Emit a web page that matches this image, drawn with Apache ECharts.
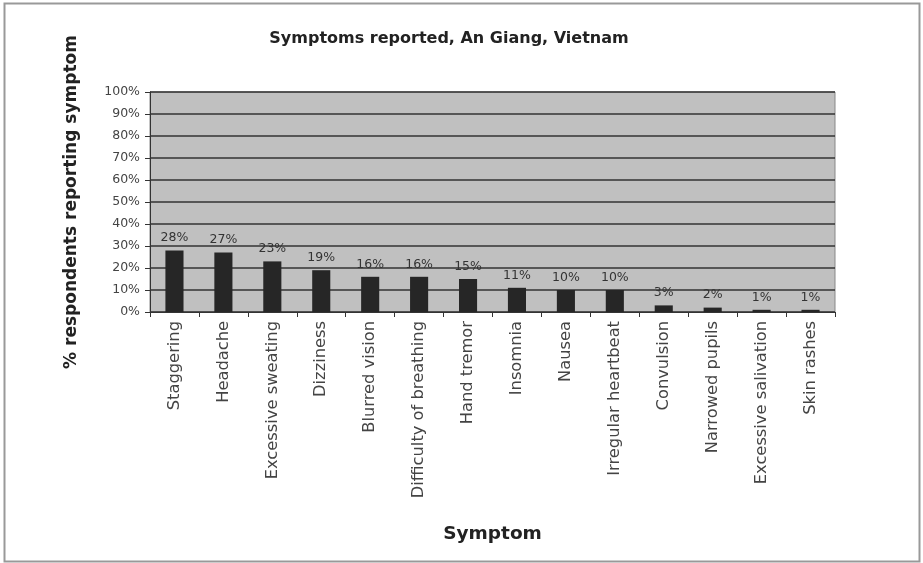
<!DOCTYPE html>
<html><head><meta charset="utf-8">
<script src="https://cdn.jsdelivr.net/npm/echarts@6/dist/echarts.min.js"></script>
<style>html,body{margin:0;padding:0;background:#fff}#c{width:923px;height:563px}</style>
</head><body><div id="c"></div>
<script>
const categories = ['Staggering','Headache','Excessive sweating','Dizziness','Blurred vision','Difficulty of breathing','Hand tremor','Insomnia','Nausea','Irregular heartbeat','Convulsion','Narrowed pupils','Excessive salivation','Skin rashes'];
const values = [28,27,23,19,16,16,15,11,10,10,3,2,1,1];
const yTicks = [0,10,20,30,40,50,60,70,80,90,100];

const chart = echarts.init(document.getElementById('c'), null, {renderer:'canvas'});
chart.setOption({
  animation:false,
  backgroundColor:'#fff',
  graphic:[{type:'rect',shape:{x:4.5,y:3.5,width:915,height:558},style:{fill:'none',stroke:'#999',lineWidth:2},z:-1}],
  title:{text:'Symptoms reported, An Giang, Vietnam',left:444,top:26,textAlign:'center',
    textStyle:{fontFamily:'DejaVu Sans',fontWeight:'bold',fontSize:16,color:'#222'}},
  grid:{left:150,right:88,top:92,bottom:251,show:true,backgroundColor:'#c0c0c0',borderColor:'#888',borderWidth:1},
  xAxis:{type:'category',data:categories,
    name:'Symptom',nameLocation:'middle',nameGap:213,
    nameTextStyle:{fontFamily:'DejaVu Sans',fontWeight:'bold',fontSize:18.5,color:'#222'},
    axisLine:{lineStyle:{color:'#333',width:1}},
    axisTick:{show:true,alignWithLabel:false,length:5,lineStyle:{color:'#333'}},
    axisLabel:{rotate:90,interval:0,margin:9,fontFamily:'DejaVu Sans',fontSize:16.3,color:'#444'}},
  yAxis:{type:'value',min:0,max:100,interval:10,
    name:'% respondents reporting symptom',nameLocation:'middle',nameGap:70,
    nameTextStyle:{fontFamily:'DejaVu Sans',fontWeight:'bold',fontSize:17,color:'#222'},
    axisLine:{show:true,lineStyle:{color:'#333'}},
    axisTick:{show:true,length:5,lineStyle:{color:'#333'}},
    splitLine:{lineStyle:{color:'#333',width:1.5}},
    axisLabel:{formatter:v=>v+'%',fontFamily:'DejaVu Sans',fontSize:12.5,color:'#444',margin:10}},
  series:[{type:'bar',data:values,barWidth:'37%',
    itemStyle:{color:'#262626'},
    label:{show:true,position:'top',formatter:p=>p.value+'%',fontFamily:'DejaVu Sans',fontSize:12.5,color:'#333',distance:6}}]
});
</script></body></html>
